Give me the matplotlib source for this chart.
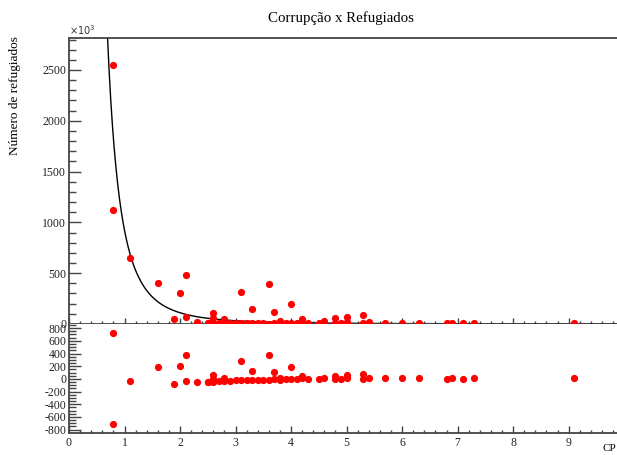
import numpy as np
import matplotlib
matplotlib.use("Agg")
import matplotlib.pyplot as plt
from matplotlib.ticker import MultipleLocator

# CP index vs number of refugees (x10^3)
cp = [0.8, 0.8, 1.1, 1.6, 1.9, 2.0, 2.1, 2.1, 2.3, 2.5, 2.5, 2.6, 2.6, 2.6,
      2.6, 2.7, 2.8, 2.8, 2.9, 3.0, 3.1, 3.1, 3.2, 3.3, 3.3, 3.4, 3.5, 3.6,
      3.6, 3.7, 3.7, 3.8, 3.8, 3.9, 4.0, 4.0, 4.1, 4.2, 4.2, 4.3, 4.5, 4.6,
      4.8, 4.8, 4.9, 5.0, 5.0, 5.3, 5.3, 5.4, 5.7, 6.0, 6.3, 6.8, 6.9, 7.1,
      7.3, 9.1]
refug = [2550, 1120, 650, 400, 46, 307, 478, 68, 18, 8, 14, 110, 55, 10,
         5, 8, 52, 10, 6, 8, 312, 5, 9, 147, 5, 6, 8, 392,
         4, 118, 12, 30, 6, 10, 195, 5, 12, 50, 20, 8, 6, 28,
         55, 8, 10, 72, 15, 88, 10, 15, 12, 12, 10, 8, 10, 8,
         10, 8]

# power-law fit  y = A * x^-B
fit_a, fit_b = 922.0, 3.063

plt.rcParams["font.family"] = ["Liberation Serif", "DejaVu Serif"]
plt.rcParams["axes.unicode_minus"] = False
AXC = "#444444"


def fit(x):
    return fit_a * np.asarray(x, float) ** (-fit_b)


x = np.array(cp)
y = np.array(refug)
resid = y - fit(x)

fig = plt.figure(figsize=(6.17, 4.55), dpi=100)
L, R = 0.1118, 1.0
top = fig.add_axes([L, 0.288, R - L, 0.9165 - 0.288])
bot = fig.add_axes([L, 0.049, R - L, 0.288 - 0.049])

xmax = 9.87
xs = np.linspace(0.55, xmax, 600)
top.plot(xs, fit(xs), color="black", lw=1.0, zorder=2)
top.plot(x, y, "o", color="red", ms=5.2, mec="none", zorder=3)
top.set_xlim(0, xmax)
top.set_ylim(0, 2815)

bot.plot(x, resid, "o", color="red", ms=5.2, mec="none", zorder=3)
bot.set_xlim(0, xmax)
bot.set_ylim(-848, 866)

for ax in (top, bot):
    ax.spines["right"].set_visible(False)
    for s in ax.spines.values():
        s.set_color(AXC)
        s.set_linewidth(1.3)
    ax.xaxis.set_major_locator(MultipleLocator(1))
    ax.xaxis.set_minor_locator(MultipleLocator(0.2))
    ax.tick_params(which="both", direction="in", colors=AXC,
                   labelcolor="#222222", labelsize=8.5, width=1.0,
                   top=False, right=False, pad=2)

bot.spines["top"].set_visible(False)
top.tick_params(axis="x", which="major", length=4, labelbottom=False)
top.tick_params(axis="x", which="minor", length=2.2)
top.tick_params(axis="y", which="major", length=8.5)
top.tick_params(axis="y", which="minor", length=5)
top.yaxis.set_major_locator(MultipleLocator(500))
top.yaxis.set_minor_locator(MultipleLocator(100))

bot.tick_params(axis="x", which="major", length=5, pad=3)
bot.tick_params(axis="x", which="minor", length=2.5)
bot.tick_params(axis="y", which="major", length=8.5)
bot.tick_params(axis="y", which="minor", length=5)
bot.yaxis.set_minor_locator(MultipleLocator(50))
bot.set_yticks([800, 600, 400, 200, 0, -200, -400, -600, -800])

top.text(0.0, 1.005, r"$\times10^{3}$", transform=top.transAxes,
         fontsize=7, color="#333333", ha="left", va="bottom")
fig.text(0.024, 0.92, "Número de refugiados", rotation=90,
         ha="center", va="top", fontsize=9.5)
fig.text(0.999, 0.004, "CP", ha="right", va="bottom", fontsize=8)
fig.text(0.553, 0.961, "Corrupção x Refugiados", ha="center",
         va="center", fontsize=10.7)

fig.savefig("out.png", dpi=100)
